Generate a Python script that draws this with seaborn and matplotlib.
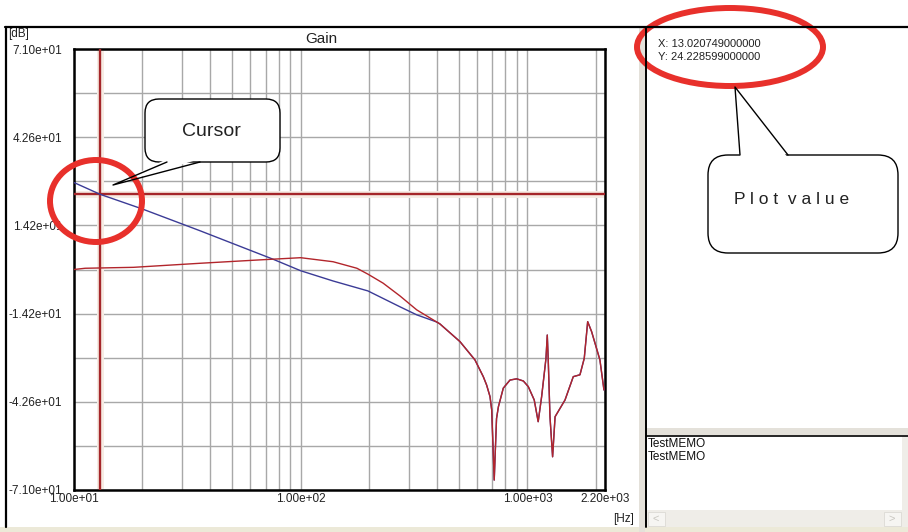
import numpy as np
import pandas as pd
import matplotlib
matplotlib.use("Agg")
import matplotlib.pyplot as plt
import seaborn as sns
from matplotlib.patches import FancyBboxPatch, Ellipse, Polygon, Rectangle
from matplotlib.ticker import FixedLocator, NullFormatter

sns.set_style("white")
plt.rcParams["font.family"] = ["Liberation Sans", "DejaVu Sans"]

# ---- gain traces (Hz, dB) ----
# low-frequency part of the measured trace
meas_head_freq = [10, 11.2, 18.3, 35.9, 66.2, 100, 139, 177, 198, 231, 274, 325]
meas_head_gain = [0.0, 0.4, 0.7, 2.0, 3.1, 3.8, 2.5, 0.4, -1.5, -4.4, -8.5, -13.0]
# low-frequency part of the model trace
model_head_freq = [10, 13.020749, 20, 35.9, 75.6, 100, 139, 198, 274, 325]
model_head_gain = [28.0, 24.228599, 19.5, 12.5, 3.3, -0.4, -3.7, -6.9, -12.0, -14.6]
# both traces coincide above ~400 Hz
tail_freq = [398, 411, 504, 587, 639, 661, 684, 696, 714, 731, 745, 783, 838, 897,
             960, 1009, 1072, 1116, 1156, 1208, 1224, 1236, 1258, 1292, 1325, 1466,
             1594, 1706, 1782, 1845, 1920, 2089, 2177]
tail_gain = [-16.9, -17.5, -23.2, -29.1, -34.5, -37.2, -40.9, -45.2, -67.8, -48.0,
             -44.2, -38.2, -35.6, -35.2, -35.9, -37.7, -42.0, -49.0, -40.9, -28.6,
             -21.1, -29.1, -47.4, -60.3, -47.4, -42.0, -34.5, -33.9, -28.6, -16.8,
             -20.0, -29.1, -38.8]

# cursor position
cursor_x = 13.020749
cursor_y = 24.228599

x_ticks = [10, 100, 1000, 2200]
y_ticks = [71, 42.6, 14.2, -14.2, -42.6, -71]
x_grid_minor = [20, 30, 40, 50, 60, 70, 80, 90, 200, 300, 400, 500, 600, 700, 800, 900, 2000]
y_grid_minor = [56.8, 28.4, 0, -28.4, -56.8]

memo_lines = ["TestMEMO", "TestMEMO"]

df = pd.concat([
    pd.DataFrame({"freq": model_head_freq + tail_freq,
                  "gain": model_head_gain + tail_gain, "trace": "model"}),
    pd.DataFrame({"freq": meas_head_freq + tail_freq,
                  "gain": meas_head_gain + tail_gain, "trace": "measured"}),
], ignore_index=True)

W, H = 908, 532
fig = plt.figure(figsize=(W / 100, H / 100), dpi=100)
fig.patch.set_facecolor("white")

# main plot area in pixels: x 74..605, y 49..490
ax = fig.add_axes([74 / W, 1 - 490 / H, 531 / W, 441 / H])
ax.set_facecolor("white")

sns.lineplot(data=df, x="freq", y="gain", hue="trace", hue_order=["model", "measured"],
             palette={"model": "#3b3b96", "measured": "#b2252b"}, estimator=None,
             sort=False, legend=False, linewidth=1.0, ax=ax, zorder=4)

ax.set_xscale("log")
ax.set_xlim(10, 2200)
ax.set_ylim(-71, 71)

ax.xaxis.set_major_locator(FixedLocator(x_ticks))
ax.xaxis.set_minor_locator(FixedLocator(x_grid_minor))
ax.xaxis.set_minor_formatter(NullFormatter())
ax.set_xticklabels([f"{v:.2e}" for v in x_ticks])
ax.yaxis.set_major_locator(FixedLocator(y_ticks))
ax.yaxis.set_minor_locator(FixedLocator(y_grid_minor))
ax.set_yticklabels([f"{v:.2e}" for v in y_ticks])

ax.grid(True, which="both", color="#a8a8a8", linewidth=1.0)
ax.set_axisbelow(True)
ax.tick_params(axis="both", which="both", length=0, labelsize=8.5, colors="#222222")
ax.tick_params(axis="y", pad=8.5)
ax.tick_params(axis="x", pad=2.5)
ax.set_xlabel("")
ax.set_ylabel("")
for s in ax.spines.values():
    s.set_visible(True)
    s.set_color("black")
    s.set_linewidth(1.8)

# cursor cross-hair with its soft halo
for kw in ({"color": "#f6ece4", "linewidth": 5, "zorder": 2},
           {"color": "#a5262a", "linewidth": 1.7, "zorder": 3}):
    ax.axvline(cursor_x, **kw)
    ax.axhline(cursor_y, **kw)

# ---- window chrome and annotations, drawn in pixel coordinates ----
ov = fig.add_axes([0, 0, 1, 1], zorder=10)
ov.set_xlim(0, W)
ov.set_ylim(H, 0)
ov.axis("off")
ov.patch.set_alpha(0)

chrome = "#e4e1da"
ov.add_patch(Rectangle((0, 527), W, 5, facecolor="#ece9d8", edgecolor="none"))
ov.add_patch(Rectangle((639, 28), 6, 504, facecolor=chrome, edgecolor="none"))
ov.add_patch(Rectangle((646, 428), 262, 7, facecolor=chrome, edgecolor="none"))
ov.add_patch(Rectangle((902, 436), 6, 74, facecolor="#efede8", edgecolor="none"))
ov.add_patch(Rectangle((647, 510), 261, 17, facecolor="#efede8", edgecolor="none"))
ov.add_patch(Rectangle((648, 512), 17, 14, facecolor="#f6f5f2", edgecolor="#dcdad4", lw=0.6))
ov.add_patch(Rectangle((884, 512), 17, 14, facecolor="#f6f5f2", edgecolor="#dcdad4", lw=0.6))
ov.text(656, 519, "<", ha="center", va="center", fontsize=8, color="#c8c6c0")
ov.text(892, 519, ">", ha="center", va="center", fontsize=8, color="#c8c6c0")
ov.plot([5, W], [27, 27], color="black", lw=1.6)
ov.plot([6, 6], [27, 527], color="black", lw=1.6)
ov.plot([646, 646], [27, 527], color="black", lw=1.4)
ov.plot([646, W], [435.5, 435.5], color="black", lw=1.2)

# axis captions
ov.text(8, 34, "[dB]", ha="left", va="center", fontsize=8.5, color="#222222")
ov.text(305, 39, "Gain", ha="left", va="center", fontsize=11, color="#222222")
ov.text(613, 519, "[Hz]", ha="left", va="center", fontsize=8.5, color="#222222")

# cursor read-out
ov.text(658, 44, f"X: {cursor_x:.12f}", ha="left", va="center", fontsize=8, color="#222222")
ov.text(658, 57.5, f"Y: {cursor_y:.12f}", ha="left", va="center", fontsize=8, color="#222222")

# memo box
for i, line in enumerate(memo_lines):
    ov.text(648, 444 + 12.5 * i, line, ha="left", va="center", fontsize=8.5, color="#111111")


def callout(x0, y0, x1, y1, base_a, base_b, tip, edge_y, radius, text, tx, ty, fs):
    box = FancyBboxPatch((x0, y0), x1 - x0, y1 - y0,
                         boxstyle=f"round,pad=0,rounding_size={radius}",
                         facecolor="white", edgecolor="black", lw=1.0)
    ov.add_patch(box)
    inner = edge_y + (3 if edge_y == y0 else -3)
    ov.add_patch(Polygon([(base_a, inner), (base_b, inner), tip], closed=True,
                         facecolor="white", edgecolor="none"))
    ov.plot([base_a, tip[0], base_b], [edge_y, tip[1], edge_y], color="black", lw=1.0)
    ov.text(tx, ty, text, ha="center", va="center", fontsize=fs, color="#222222")


callout(145, 99, 280, 162, 167, 200, (113, 185), 162, 14, "Cursor", 211, 131, 14)
callout(708, 155, 898, 253, 740, 788, (735, 87), 155, 20,
        "P l o t  v a l u e", 792, 200, 12.5)

# red highlight rings
ov.add_patch(Ellipse((96, 201), 92, 82, facecolor="none", edgecolor="#e8302b", lw=4.3))
ov.add_patch(Ellipse((730, 47), 186, 78, facecolor="none", edgecolor="#e8302b", lw=4.3))

fig.savefig("out.png", dpi=100)
